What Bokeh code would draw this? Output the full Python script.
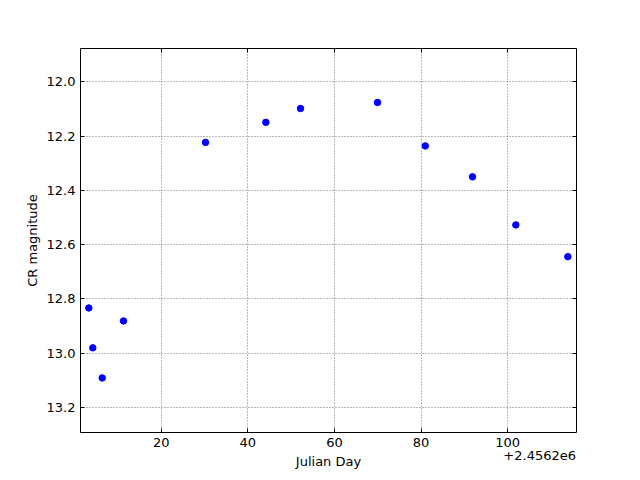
from bokeh.plotting import figure
from bokeh.models import Range1d, LinearAxis, FixedTicker, CustomJSTickFormatter
from bokeh.embed import file_html
from bokeh.resources import INLINE

jd_base = 2456200
offset_label = "+2.4562e6"
jd_offset = [3.28, 4.20, 6.37, 11.29, 30.23, 44.16, 52.17, 69.95, 80.97, 91.89, 101.89, 113.90]
cr_mag = [12.833, 12.980, 13.091, 12.881, 12.223, 12.149, 12.098, 12.076, 12.236, 12.350, 12.527, 12.644]
x_ticks = [20, 40, 60, 80, 100]
y_ticks = [12.0, 12.2, 12.4, 12.6, 12.8, 13.0, 13.2]

jd = [jd_base + v for v in jd_offset]

FONT = "DejaVu Sans"
FS = "13px"
X0, X1 = jd_base + 1.36, jd_base + 115.9

p = figure(width=632, height=472, output_backend="svg", toolbar_location=None,
           x_range=Range1d(X0, X1),
           y_range=Range1d(13.292, 11.877),
           min_border_left=80, min_border_right=56, min_border_top=48, min_border_bottom=0,
           frame_width=496, frame_height=384)
p.outline_line_color = "black"
p.outline_line_width = 1
p.background_fill_color = "white"
p.border_fill_color = "white"

fmt = CustomJSTickFormatter(code="return (tick - %d).toFixed(0);" % jd_base)
yfmt = CustomJSTickFormatter(code="return tick.toFixed(1);")
blank = CustomJSTickFormatter(code="return '';")
xt = FixedTicker(ticks=[jd_base + t for t in x_ticks])
yt = FixedTicker(ticks=y_ticks)

for ax in p.xaxis:
    ax.ticker = xt
    ax.formatter = fmt
    ax.axis_label = "Julian Day"
for ax in p.yaxis:
    ax.ticker = yt
    ax.formatter = yfmt
    ax.axis_label = "CR magnitude"

p.add_layout(LinearAxis(ticker=xt, formatter=blank), "above")
p.add_layout(LinearAxis(ticker=yt, formatter=blank), "right")

for ax in p.axis:
    ax.major_tick_in = 4
    ax.major_tick_out = 0
    ax.minor_tick_in = 0
    ax.minor_tick_out = 0
    ax.axis_line_color = None
    ax.major_tick_line_color = "black"
    ax.major_label_text_font = FONT
    ax.major_label_text_font_size = FS
    ax.major_label_text_color = "black"
    ax.axis_label_text_font = FONT
    ax.axis_label_text_font_size = FS
    ax.axis_label_text_font_style = "normal"
    ax.axis_label_text_color = "black"
    ax.major_label_standoff = 5
    ax.axis_label_standoff = 4

for ax in p.above + p.right:
    if isinstance(ax, LinearAxis):
        ax.major_label_standoff = 0

# offset text (matplotlib-style "+2.4562e6") drawn as a label of a second bottom axis
off_pos = X1 - 8.5
off_axis = LinearAxis(ticker=FixedTicker(ticks=[off_pos]),
                      major_label_overrides={off_pos: offset_label},
                      major_tick_in=0, major_tick_out=0, minor_tick_in=0, minor_tick_out=0,
                      axis_line_color=None, major_label_standoff=-21,
                      major_label_text_font=FONT, major_label_text_font_size=FS,
                      major_label_text_color="black")
p.add_layout(off_axis, "below")

p.xgrid.ticker = xt
p.ygrid.ticker = yt
for g in p.grid:
    g.grid_line_color = "black"
    g.grid_line_alpha = 0.55
    g.grid_line_dash = "1 2"
    g.grid_line_width = 1

p.scatter(jd, cr_mag, size=6.5, fill_color="blue", line_color="blue", marker="circle")

open("out.html", "w").write(file_html(p, INLINE))
